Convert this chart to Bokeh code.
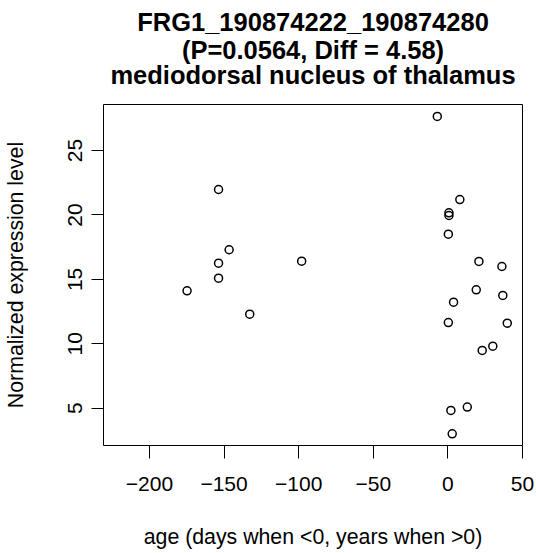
from bokeh.plotting import figure
from bokeh.models import Range1d, FixedTicker, Title
from bokeh.embed import file_html
from bokeh.resources import INLINE

# ---- data ----
age = [-153.7, -146.6, -153.7, -153.7, -174.8, -132.8, -98.0,
       -7.1, 8.0, 0.7, 0.7, 0.3, 20.8, 36.2, 19.0, 36.8, 3.8, 0.3,
       39.8, 30.1, 23.0, 13.0, 2.0, 2.9]
expr = [21.98, 17.30, 16.26, 15.09, 14.11, 12.30, 16.41,
        27.65, 21.2, 20.17, 19.96, 18.51, 16.39, 16.0, 14.19, 13.75, 13.23, 11.65,
        11.60, 9.81, 9.48, 5.08, 4.82, 3.01]

x_ticks = [-200, -150, -100, -50, 0, 50]
x_tick_labels = ["\u2212200", "\u2212150", "\u2212100", "\u221250", "0", "50"]
y_ticks = [5, 10, 15, 20, 25]

title_lines = ["FRG1_190874222_190874280",
               "(P=0.0564, Diff = 4.58)",
               "mediodorsal nucleus of thalamus"]
x_label = "age (days when <0, years when >0)"
y_label = "Normalized expression level"

FONT = "Liberation Sans"

p = figure(width=536, height=553, output_backend="svg", toolbar_location=None,
           x_range=Range1d(-230.8, 50), y_range=Range1d(2.10, 28.58),
           min_border_left=103, min_border_right=14, min_border_top=104,
           min_border_bottom=108, background_fill_color="white",
           border_fill_color="white")

p.scatter(age, expr, marker="circle", size=8, fill_color=None,
          line_color="black", line_width=1.5)

p.grid.visible = False
p.outline_line_color = "black"
p.outline_line_width = 1
p.outline_line_alpha = 1

for ax in (p.xaxis[0], p.yaxis[0]):
    ax.axis_line_color = None
    ax.minor_tick_line_color = None
    ax.major_tick_in = 0
    ax.major_tick_line_color = "black"
    ax.major_tick_line_width = 1
    ax.major_label_text_font = FONT
    ax.major_label_text_font_size = "21px"
    ax.major_label_text_color = "black"
    ax.axis_label_text_font = FONT
    ax.axis_label_text_font_size = "21.3px"
    ax.axis_label_text_font_style = "normal"
    ax.axis_label_text_color = "black"

p.xaxis.ticker = FixedTicker(ticks=x_ticks)
p.xaxis.major_label_overrides = {t: s for t, s in zip(x_ticks, x_tick_labels)}
p.xaxis.axis_label = x_label
p.xaxis.major_tick_out = 13
p.xaxis.major_label_standoff = 18
p.xaxis.axis_label_standoff = 31

p.yaxis.ticker = FixedTicker(ticks=y_ticks)
p.yaxis.major_label_orientation = "vertical"
p.yaxis.axis_label = y_label
p.yaxis.major_tick_out = 12
p.yaxis.major_label_standoff = 9
p.yaxis.axis_label_standoff = 38

# spacer between the title block and the plot frame
p.add_layout(Title(text=" ", text_font=FONT, text_font_size="12px",
                   standoff=0, offset=0), "above")
standoffs = [0, -10, 5]  # line 3, line 2, line 1
for s, line in zip(standoffs, reversed(title_lines)):
    p.add_layout(Title(text=line, align="center", text_font=FONT,
                       text_font_size="25.5px", text_font_style="bold",
                       text_color="black", standoff=s, offset=0), "above")

open("out.html", "w").write(file_html(p, INLINE))
